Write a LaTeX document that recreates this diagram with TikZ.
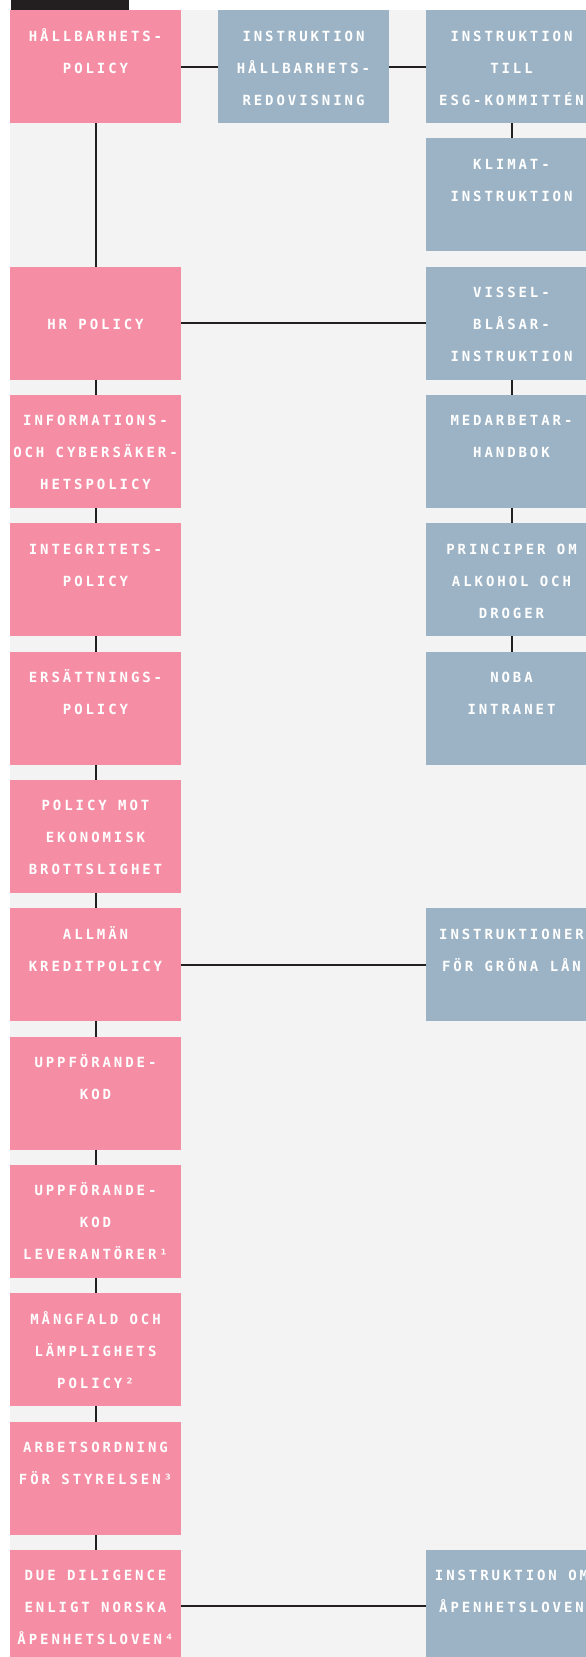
\documentclass[tikz,border=0pt]{standalone}
\usepackage{fontspec}
\newfontfamily\boxfont{DejaVu Sans Mono Bold}[LetterSpace=20.9]
\newcommand\wsp{\hspace{11.35pt}}
\definecolor{pinkbox}{HTML}{F58DA4}
\definecolor{bluebox}{HTML}{9BB3C5}
\definecolor{bggray}{HTML}{F3F3F3}
\definecolor{darkline}{HTML}{231F20}
\tikzset{
  docbox/.style={rectangle, inner sep=0pt, outer sep=0pt, text width=171pt,
    text height=31pt, text depth=82pt, align=center, text=white,
    font={\boxfont\fontsize{14pt}{32pt}\selectfont}, anchor=north west},
  policy/.style={docbox, fill=pinkbox},
  instr/.style={docbox, fill=bluebox},
  conn/.style={draw=darkline, line width=2pt}
}
\begin{document}
\begin{tikzpicture}[x=1pt, y=-1pt]
\useasboundingbox (0,0) rectangle (586,1657);
\fill[white] (0,0) rectangle (586,1657);
\fill[bggray] (10,10) rectangle (586,1657);
\fill[darkline] (11,0) rectangle (129,10);
\begin{scope}
\clip (0,0) rectangle (586,1657);
% left column (policies)
\node[policy] (p0) at (10,{10+128.33*0}) {HÅLLBARHETS-\\POLICY};
\node[policy] (p2) at (10,{10+128.33*2}) {\mbox{}\\HR\wsp POLICY};
\node[policy] (p3) at (10,{10+128.33*3}) {INFORMATIONS-\\OCH\wsp CYBERSÄKER-\\HETSPOLICY};
\node[policy] (p4) at (10,{10+128.33*4}) {INTEGRITETS-\\POLICY};
\node[policy] (p5) at (10,{10+128.33*5}) {ERSÄTTNINGS-\\POLICY};
\node[policy] (p6) at (10,{10+128.33*6}) {POLICY\wsp MOT\\EKONOMISK\\BROTTSLIGHET};
\node[policy] (p7) at (10,{10+128.33*7}) {ALLMÄN\\KREDITPOLICY};
\node[policy] (p8) at (10,{10+128.33*8}) {UPPFÖRANDE-\\KOD};
\node[policy] (p9) at (10,{10+128.33*9}) {UPPFÖRANDE-\\KOD\\LEVERANTÖRER¹};
\node[policy] (p10) at (10,{10+128.33*10}) {MÅNGFALD\wsp OCH\\LÄMPLIGHETS\\POLICY²};
\node[policy] (p11) at (10,{10+128.33*11}) {ARBETSORDNING\\FÖR\wsp STYRELSEN³};
\node[policy] (p12) at (10,{10+128.33*12}) {DUE\wsp DILIGENCE\\ENLIGT\wsp NORSKA\\ÅPENHETSLOVEN⁴};
% middle column
\node[instr] (m0) at (218,{10+128.33*0}) {INSTRUKTION\\HÅLLBARHETS-\\REDOVISNING};
% right column
\node[instr] (r0) at (426,{10+128.33*0}) {INSTRUKTION\\TILL\\ESG-KOMMITTÉN};
\node[instr] (r1) at (426,{10+128.33*1}) {KLIMAT-\\INSTRUKTION};
\node[instr] (r2) at (426,{10+128.33*2}) {VISSEL-\\BLÅSAR-\\INSTRUKTION};
\node[instr] (r3) at (426,{10+128.33*3}) {MEDARBETAR-\\HANDBOK};
\node[instr] (r4) at (426,{10+128.33*4}) {PRINCIPER\wsp OM\\ALKOHOL\wsp OCH\\DROGER};
\node[instr] (r5) at (426,{10+128.33*5}) {NOBA\\INTRANET};
\node[instr] (r7) at (426,{10+128.33*7}) {INSTRUKTIONER\\FÖR\wsp GRÖNA\wsp LÅN};
\node[instr] (r12) at (426,{10+128.33*12}) {INSTRUKTION\wsp OM\\ÅPENHETSLOVEN};
% connectors
\draw[conn] (p0) -- (m0);
\draw[conn] (m0) -- (r0);
\draw[conn] (r0) -- (r1);
\draw[conn] (p0) -- (p2);
\draw[conn] (p2) -- (r2);
\draw[conn] (r2) -- (r3);
\draw[conn] (r3) -- (r4);
\draw[conn] (r4) -- (r5);
\foreach \a/\b in {2/3,3/4,4/5,5/6,6/7,7/8,8/9,9/10,10/11,11/12}
  \draw[conn] (p\a) -- (p\b);
\draw[conn] (p7) -- (r7);
\draw[conn] (p12) -- (r12);
\end{scope}
\end{tikzpicture}
\end{document}
